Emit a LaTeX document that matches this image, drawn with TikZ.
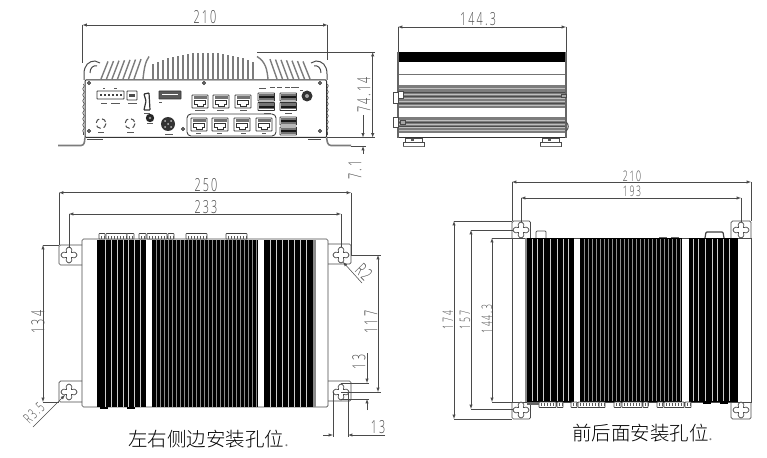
\documentclass[tikz,border=0pt]{standalone}
\usepackage{fontspec}
\usetikzlibrary{shapes,arrows}
\usetikzlibrary{decorations.pathmorphing}
\newfontfamily\dimfont[FakeStretch=0.6,LetterSpace=12]{Open Sans Light}
\newfontfamily\cjk{Noto Sans CJK SC Light}
\definecolor{myink}{HTML}{4A4A4A}
\definecolor{myband}{HTML}{7C7C7C}
\tikzstyle{myline}=[myink,line width=.7pt]
\tikzstyle{mydim}=[myink,line width=.55pt,>=latex,<->]
\tikzstyle{myext}=[myink,line width=.55pt]
\tikzstyle{mytext}=[myink,inner sep=0pt,font=\dimfont\fontsize{18}{18}\selectfont]
\tikzstyle{mysmall}=[myink,inner sep=0pt,font=\dimfont\fontsize{14.5}{15}\selectfont]
\tikzstyle{mycaption}=[black,inner sep=0pt,font=\cjk\fontsize{19.5}{20}\selectfont]
\tikzstyle{myfin}=[myband,line width=1.4pt]
\tikzstyle{myslit}=[white!80!black,line width=.8pt]
\tikzstyle{myfine}=[black!45,line width=.4pt]
\tikzstyle{myconn}=[black!75,line width=.7pt,rounded corners=.5pt,fill=white]
\tikzstyle{myport}=[black!80,line width=.9pt,rounded corners=.6pt]
\tikzstyle{mytag}=[black!65]
\newcommand{\myhole}[2]{\draw[myline,fill=white] plot[smooth cycle,tension=.7] coordinates {({#1+8},#2) ({#1+5.6},{#2+2.8}) ({#1+2.5},{#2+2.5}) ({#1+2.8},{#2+5.6}) (#1,{#2+8}) ({#1-2.8},{#2+5.6}) ({#1-2.5},{#2+2.5}) ({#1-5.6},{#2+2.8}) ({#1-8},#2) ({#1-5.6},{#2-2.8}) ({#1-2.5},{#2-2.5}) ({#1-2.8},{#2-5.6}) (#1,{#2-8}) ({#1+2.8},{#2-5.6}) ({#1+2.5},{#2-2.5}) ({#1+5.6},{#2-2.8})};}
\begin{document}
\begin{tikzpicture}[x=1pt,y=-1pt]
	\useasboundingbox (0,0) rectangle (767,457);

	% front view
	\foreach \x in {153,158,...,253} {
		\pgfmathsetmacro{\top}{52.5+10*((\x-205.5)/50)^2}
		\draw[myfin] (\x,79) -- (\x,\top);}
	\foreach \x in {101,106.5,...,136} {
		\pgfmathsetmacro{\top}{61.5-(\x-100)*.07}
		\draw[myfin] (\x,79) -- ({\x+7},\top);
		\draw[myfin] ({411-\x},79) -- ({411-\x-7},\top);}
	\draw[myfin] (143,79) .. controls (144,70) and (145,62) .. (149,56.5);
	\draw[myfin] (268,79) .. controls (267,70) and (266,62) .. (257,56.5);
	\draw[myline,line width=1pt] (84,80) -- (84,74) .. controls (84,65) and (89,61) .. (95,61) -- (100,63);
	\draw[myline,line width=1pt] (90,73) .. controls (90,68) and (93,65) .. (97,66);
	\draw[myline,line width=1pt] (327,80) -- (327,74) .. controls (327,65) and (322,61) .. (316,61) -- (311,63);
	\draw[myline,line width=1pt] (321,73) .. controls (321,68) and (318,65) .. (314,66);
	\draw[myline,decorate,decoration={snake,amplitude=.7,segment length=6}] (83.5,84) -- (83.5,135);
	\draw[myline,decorate,decoration={snake,amplitude=.7,segment length=6}] (327.5,84) -- (327.5,135);
	\draw[black!80,line width=1pt,rounded corners=1pt] (85,80) rectangle (326.5,137.5);
	\draw[myband,line width=1.6pt,rounded corners=3pt] (58,145.5) -- (84,145.5) -- (85,137.5);
	\draw[myband,line width=1.6pt,rounded corners=3pt] (351,145.5) -- (328,145.5) -- (326.5,137.5);
	\draw[black!70,line width=.8pt] (87,139) -- (103,139) (308,139) -- (321,139);

	\foreach \x / \y in {89/83,204/83,320/83,89/131,320/131,183/129} {\draw[black!85,line width=.9pt] (\x,\y) circle (1.4);}

	\draw[myport] (97,91) rectangle (124,99);
	\foreach \x in {100,104,...,120} {\fill[black!75] (\x,94) rectangle +(1.5,2);}
	\draw[myport] (127,91) rectangle (137,100);
	\fill[black!70] (129,94) rectangle +(6,3);
	\draw[myport,line width=1.2pt] (144,94) -- (149,93) -- (150,110) -- (144,110) -- (146,101) -- cycle;
	\draw[myport,fill=black!65] (159,91) rectangle (181,99);
	\fill[white] (162,94) rectangle +(16,1.5);
	\fill[black!85] (150,118) circle (4.2);
	\fill[black!40] (150,118) circle (1.4);
	\fill[black!80] (168,124) circle (7);
	\foreach \x / \y in {165/121,171/121,168/124,165/127,171/127} {\fill[black!25] (\x,\y) circle (1);}
	\fill[black!80] (307,96) circle (5.5);
	\fill[black!35] (307,96) circle (2);
	\foreach \x in {101,130} {\draw[myink,line width=1pt,dash pattern=on 5pt off 3pt] (\x,123.5) circle (5);}

	\draw[black!75,line width=.9pt,rounded corners=4pt] (187,114) rectangle (276,136);
	% LAN ports
	\foreach \x / \y in {192/95,213/95,235/95,191/118,212/118,234/118,256/118} {
		\draw[myport] (\x,\y) rectangle +(16,13);
		\fill[black!55] ({\x+1.5},{\y+1.5}) rectangle +(13,3);
		\draw[black!80,line width=.8pt] ({\x+2.5},{\y+5}) -- ({\x+13.5},{\y+5}) -- ({\x+13.5},{\y+9}) -- ({\x+11},{\y+9}) -- ({\x+11},{\y+11.5}) -- ({\x+5},{\y+11.5}) -- ({\x+5},{\y+9}) -- ({\x+2.5},{\y+9}) -- cycle;}
	% USB ports
	\foreach \x / \y in {258/93,258/102.5,280/93,280/102.5,280/117,280/127} {
		\draw[myport] (\x,\y) rectangle +(16.5,8);
		\fill[black!55] ({\x+1},{\y+1}) rectangle +(14.5,6);
		\fill[black!90] ({\x+1},{\y+3.5}) rectangle +(14.5,1.6);}
	% marks under the ports
	\foreach \x / \y / \w in {101/103/6,111/103/9,128/103/9,159/102/3,195/110/10,217/110/7,240/110/7,144/113/6,147/123/6,165/134/8,98/132/6,127/132/7,196/133/5,217/133/5,241/133/5,262/133/4,264/113/7,285/113/7,259/88/7,270/87/5,277/87/5,285/87/5,291/87/5,296/87/3,300/90/3,103/88/2,114/88/3} {
		\fill[mytag] (\x,\y) rectangle +(\w,1.5);}

	\draw[myext] (82.5,25) -- (82.5,63);
	\draw[myext] (327.5,25) -- (327.5,60);
	\draw[mydim] (82.5,25) -- (327.5,25);
	\node[mytext] (frontwidth) at (205,17) {210};

	\draw[myext] (257,52) -- (375,52);
	\draw[myext] (327,137.5) -- (375,137.5);
	\draw[myext] (351,146) -- (366,146);
	\draw[mydim] (372.7,52) -- (372.7,137.5);
	\node[mytext,rotate=90] (frontheight) at (364,95) {74.14};
	\draw[myext,>=latex,->] (363,115) -- (363,137.5);
	\draw[myext,>=latex,<-] (363,146) -- (363,154);
	\node[mytext,rotate=90] (footheight) at (355,170) {7.1};

	% side view
	\draw[myext] (398,27) -- (398,52);
	\draw[myext] (566,27) -- (566,52);
	\draw[mydim] (398,27) -- (566,27);
	\node[mytext] (sidewidth) at (478,19) {144.3};
	\fill[black] (398,52) rectangle (566,62);
	\fill[myband] (398,85) rectangle (566,108);
	\fill[myband] (398,117) rectangle (566,133);
	\foreach \y in {88,94,98,101,105,120,124,127,130} {\draw[black!25,line width=.6pt] (398,\y) -- (566,\y);}
	\foreach \y in {92,96,103,122,126} {\draw[black!70,line width=.7pt] (398,\y) -- (566,\y);}
	\draw[black!55,line width=.8pt] (398,74) -- (566,74);
	\draw[black!80,line width=1pt] (398,138) -- (566,138);
	\draw[black!60,line width=1.1pt] (398,52) -- (398,138);
	\draw[black!60,line width=1.1pt] (566,52) -- (566,138);
	\foreach \x in {403,540} {
		\draw[myline] (\x,146.5) rectangle +(21,-4.5);
		\draw[myline] ({\x+2},142) rectangle +(17,-4);
		\fill[black!65] ({\x+8},139) rectangle +(3,2);
		\draw[black!55,line width=1pt] (\x,146.5) -- +(21,0);}
	\draw[myline,fill=white] (393,92) rectangle (398,103);
	\draw[myline,fill=white] (398,91) rectangle (403,98);
	\draw[myline,fill=white] (393,117) rectangle (398,127);
	\draw[myline,fill=black!35] (400,120) rectangle (405,124);
	\draw[myline,fill=black!35] (561,94) rectangle (566,97);
	\draw[myline,line width=1pt] (566,122) .. controls (569,124) and (569,129) .. (566,131);

	% left and right mounting holes
	\draw[myline,rounded corners=1.5pt] (82,245) -- (59,245) -- (59,265) -- (82,265);
	\draw[myline,rounded corners=1.5pt] (82,381) -- (59,381) -- (59,402) -- (82,402);
	\draw[myline,rounded corners=1.5pt] (328,244) -- (351,244) -- (351,264) -- (328,264);
	\draw[myline,rounded corners=1.5pt] (328,381) -- (351,381) -- (351,401) -- (328,401);
	\draw[myline,rounded corners=1.5pt] (82,239) rectangle (328,407);
	\fill[black] (97,239.5) rectangle (146,407);
	\fill[black] (152,239.5) rectangle (258,407);
	\fill[black] (264,239.5) rectangle (313,407);
	\fill[black!45] (313,239.5) rectangle (316,407);
	\foreach \x in {105,111,117,123,128,134,140,270,276,282,288,294,300,306} {\draw[myslit] (\x,240) -- (\x,407);}
	\foreach \x in {156,160,...,256} {\draw[myfine] (\x,240) -- (\x,407);}
	\foreach \x / \y in {99/6,106/21,127/7,139/7,147/20,168/6,186/21,226/21} {
		\draw[myconn] (\x,239) rectangle +(\y,-5.5);
		\foreach \t in {2,5,...,\y} {\draw[black!65,line width=.6pt] ({\x+\t},238.5) -- +(0,-3);}}
	\foreach \x in {100,127} {\fill[black] (\x,407) rectangle +(8,2);}
	\myhole{69}{255}
	\myhole{69}{392}
	\myhole{341}{255}
	\myhole{341}{392}

	\draw[myext] (59,192.7) -- (59,245);
	\draw[myext] (351,192.7) -- (351,255);
	\draw[mydim] (59,192.7) -- (351,192.7);
	\node[mytext] (sidelong) at (206,185) {250};
	\draw[myext] (69,214) -- (69,248);
	\draw[myext] (341,214) -- (341,247);
	\draw[mydim] (69,214) -- (341,214);
	\node[mytext] (sidepitch) at (206,207) {233};

	\draw[myext] (43,245) -- (59,245);
	\draw[myext] (43,402) -- (59,402);
	\draw[mydim] (43,245) -- (43,402);
	\node[mytext,rotate=90] (sidehigh) at (38,322) {134};

	\draw[myext,>=latex,->] (33,427) -- (65,395);
	\node[mysmall,rotate=45] (holebig) at (34,413) {R3.5};
	\draw[myext,>=latex,->] (362,283) -- (343,262);
	\node[mytext,rotate=-45] (holesmall) at (364,272) {R2};

	\draw[myext] (351,255) -- (381,255);
	\draw[myext] (341,392) -- (381,392);
	\draw[mydim] (378,255) -- (378,392);
	\node[mytext,rotate=90] (holepitch) at (371,322) {117};

	\draw[myext] (341,383) -- (369,383);
	\draw[myext] (341,399) -- (369,399);
	\draw[myext,>=latex,->] (367,353) -- (367,383);
	\draw[myext,>=latex,->] (367,410) -- (367,399);
	\node[mytext,rotate=90] (slotlong) at (359,362) {13};

	\draw[myext] (333,392) -- (333,437);
	\draw[myext] (348,392) -- (348,437);
	\draw[myext,>=latex,->] (323,435) -- (333,435);
	\draw[myext,>=latex,->] (385,435) -- (348,435);
	\node[mytext] (slotwide) at (378,427) {13};

	\node[mycaption,anchor=west] (sidecaption) at (128,439) {左右侧边安装孔位\textcolor{black!50}{.}};

	% front and back mounting holes
	\draw[myline,rounded corners=1.5pt] (512,238) -- (512,221) -- (530.5,221) -- (530.5,238);
	\draw[myline,rounded corners=1.5pt] (731,238) -- (731,221) -- (751,221) -- (751,238);
	\draw[myline,rounded corners=1.5pt] (512,402) -- (512,419) -- (530.5,419) -- (530.5,402);
	\draw[myline,rounded corners=1.5pt] (731,402) -- (731,419) -- (751,419) -- (751,402);
	\draw[myline] (512,238) rectangle (751,402);
	\fill[black] (527,238) rectangle (574,402);
	\fill[black] (580,238) rectangle (682,402);
	\fill[black] (689,238) rectangle (738,402);
	\fill[black!45] (525,238) rectangle (527,402);
	\foreach \x in {532,537,543,550,557,563,568,693,698,705,712,717,723,729} {\draw[myslit] (\x,239) -- (\x,401);}
	\foreach \x in {584,588,...,680} {\draw[myfine] (\x,239) -- (\x,401);}
	\foreach \x / \y in {539/17,557/6,571/6,578/22,599/6,614/7,622/20,643/5,657/6,664/20,685/6} {
		\draw[myconn] (\x,402) rectangle +(\y,5.5);
		\foreach \t in {2,5,...,\y} {\draw[black!65,line width=.6pt] ({\x+\t},402.5) -- +(0,3);}}
	\fill[black!60] (527,402) rectangle (539,405);
	\foreach \x in {703,720} {\fill[black] (\x,402) rectangle +(8,1.6);}
	\foreach \x in {659,671} {\fill[black!60] (\x,236.5) rectangle +(7.5,1.5);}
	\draw[myline,rounded corners=1pt] (536,238) -- (536,231) -- (546,231) -- (546,238);
	\draw[black!75,line width=1.2pt,rounded corners=1pt] (705,238) -- (706,232) -- (723,232) -- (724,238);
	\myhole{521}{230}
	\myhole{741}{230}
	\myhole{521}{410}
	\myhole{741}{410}

	\draw[myext] (512,182) -- (512,221);
	\draw[myext] (751,182) -- (751,221);
	\draw[mydim] (512,182) -- (751,182);
	\node[mysmall] (backlong) at (632,176) {210};
	\draw[myext] (521,198) -- (521,222);
	\draw[myext] (741,198) -- (741,222);
	\draw[mydim] (521,198) -- (741,198);
	\node[mysmall] (backpitch) at (632,191) {193};

	\draw[myext] (454,221) -- (512,221);
	\draw[myext] (454,419) -- (512,419);
	\draw[mydim] (454,221) -- (454,419);
	\node[mysmall,rotate=90] (backhigh) at (448,320) {174};
	\draw[myext] (471,230) -- (513,230);
	\draw[myext] (471,409) -- (513,409);
	\draw[mydim] (471,230) -- (471,409);
	\node[mysmall,rotate=90] (backhole) at (465,320) {157};
	\draw[myext] (492,238) -- (512,238);
	\draw[myext] (492,402) -- (512,402);
	\draw[mydim] (492,238) -- (492,402);
	\node[mysmall,rotate=90] (backbody) at (487,319) {144.3};

	\node[mycaption,anchor=west] (backcaption) at (572,433) {前后面安装孔位\textcolor{black!50}{.}};
\end{tikzpicture}
\end{document}
